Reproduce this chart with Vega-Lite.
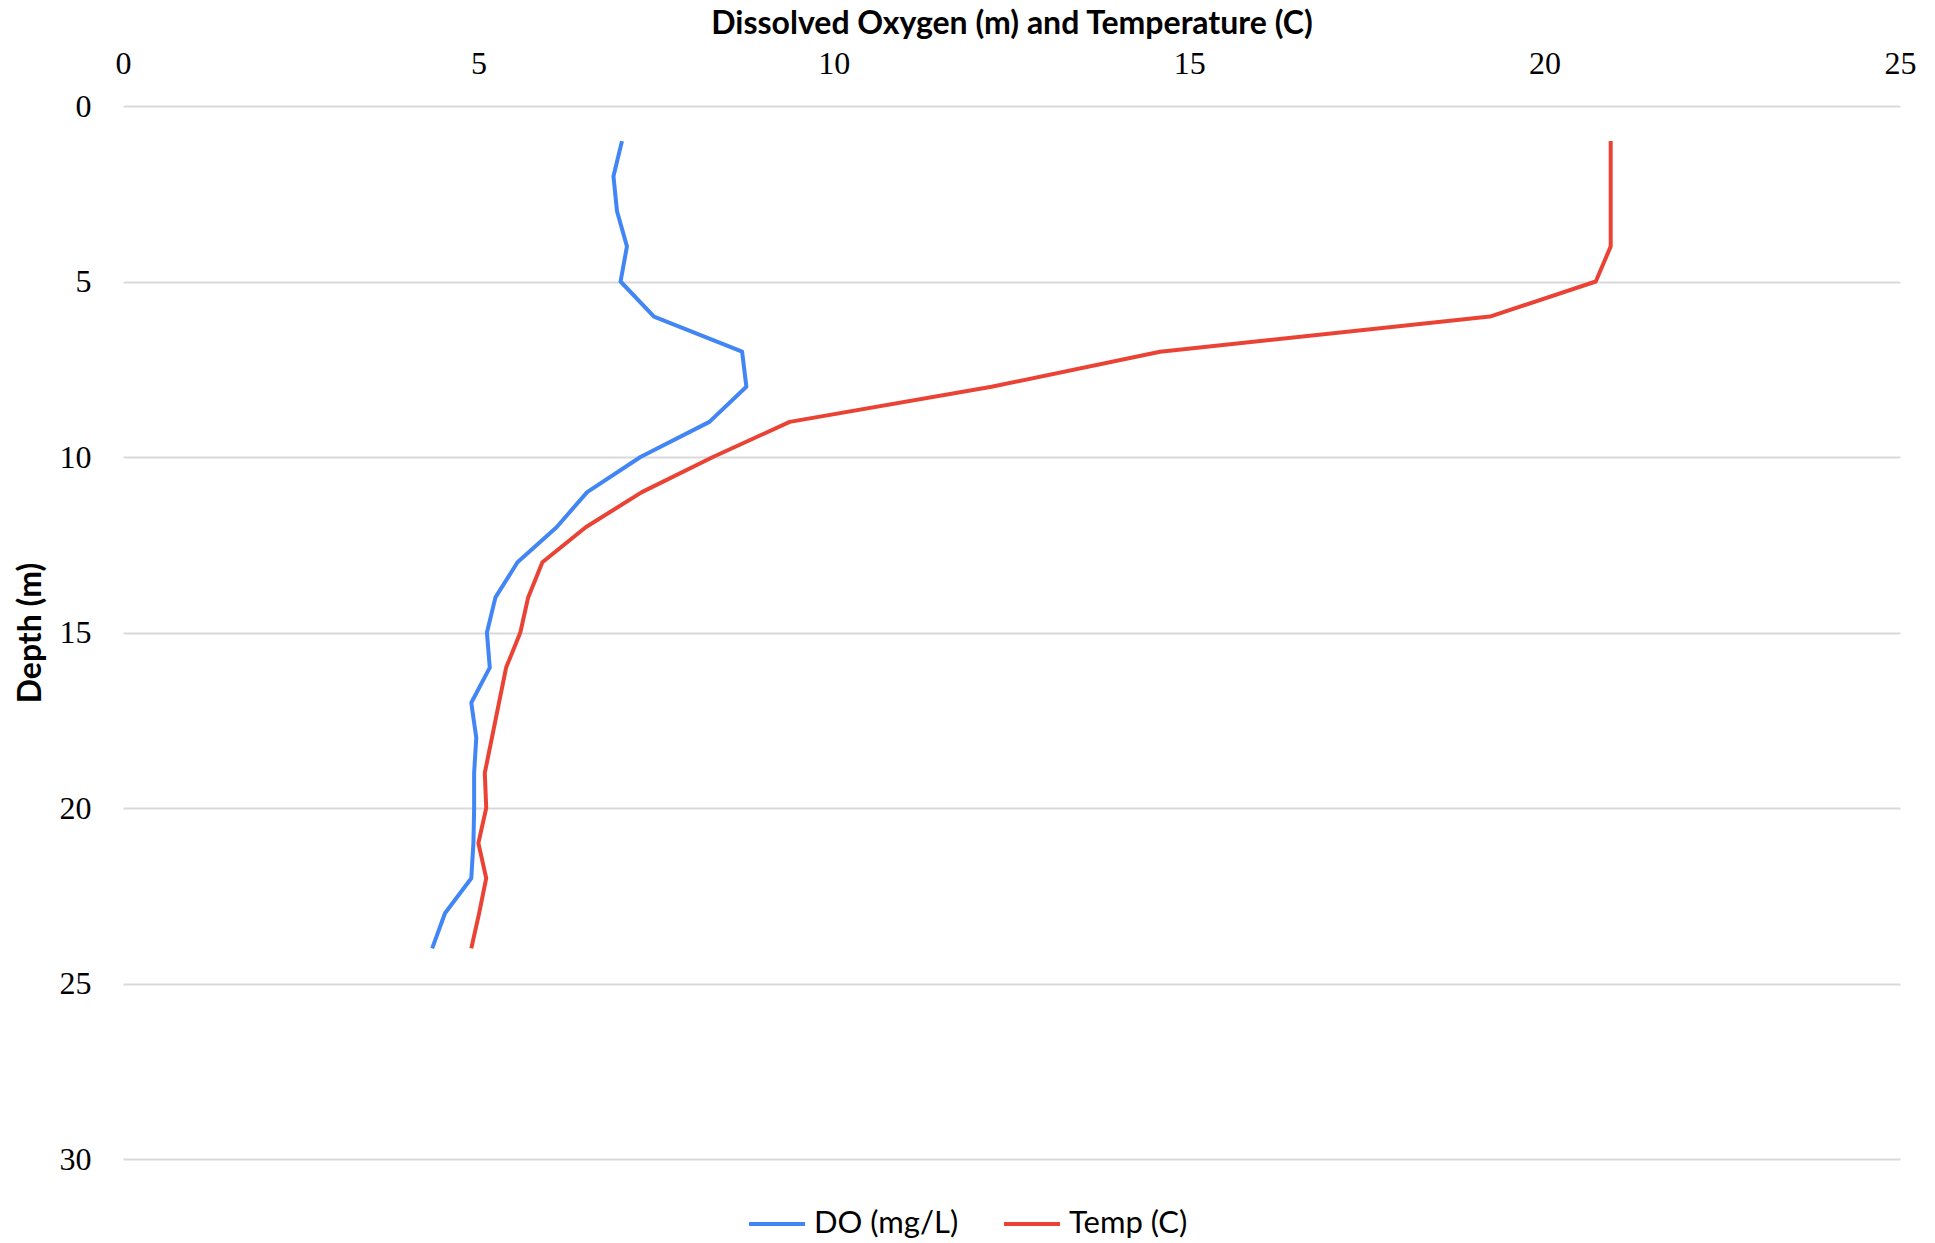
{
  "$schema": "https://vega.github.io/schema/vega-lite/v6.json",
  "width": 1777,
  "height": 1053,
  "autosize": {"type": "none"},
  "padding": {"left": 123, "top": 106, "right": 35, "bottom": 84},
  "background": "white",
  "data": {
    "values": [
      {"depth": 1, "series": "DO (mg/L)", "value": 7.02},
      {"depth": 2, "series": "DO (mg/L)", "value": 6.90},
      {"depth": 3, "series": "DO (mg/L)", "value": 6.95},
      {"depth": 4, "series": "DO (mg/L)", "value": 7.09},
      {"depth": 5, "series": "DO (mg/L)", "value": 7.00},
      {"depth": 6, "series": "DO (mg/L)", "value": 7.47},
      {"depth": 7, "series": "DO (mg/L)", "value": 8.71},
      {"depth": 8, "series": "DO (mg/L)", "value": 8.77},
      {"depth": 9, "series": "DO (mg/L)", "value": 8.25},
      {"depth": 10, "series": "DO (mg/L)", "value": 7.28},
      {"depth": 11, "series": "DO (mg/L)", "value": 6.53},
      {"depth": 12, "series": "DO (mg/L)", "value": 6.10},
      {"depth": 13, "series": "DO (mg/L)", "value": 5.55},
      {"depth": 14, "series": "DO (mg/L)", "value": 5.24},
      {"depth": 15, "series": "DO (mg/L)", "value": 5.12},
      {"depth": 16, "series": "DO (mg/L)", "value": 5.16},
      {"depth": 17, "series": "DO (mg/L)", "value": 4.90},
      {"depth": 18, "series": "DO (mg/L)", "value": 4.97},
      {"depth": 19, "series": "DO (mg/L)", "value": 4.94},
      {"depth": 20, "series": "DO (mg/L)", "value": 4.94},
      {"depth": 21, "series": "DO (mg/L)", "value": 4.93},
      {"depth": 22, "series": "DO (mg/L)", "value": 4.90},
      {"depth": 23, "series": "DO (mg/L)", "value": 4.53},
      {"depth": 24, "series": "DO (mg/L)", "value": 4.35},
      {"depth": 1, "series": "Temp (C)", "value": 20.93},
      {"depth": 2, "series": "Temp (C)", "value": 20.93},
      {"depth": 3, "series": "Temp (C)", "value": 20.93},
      {"depth": 4, "series": "Temp (C)", "value": 20.93},
      {"depth": 5, "series": "Temp (C)", "value": 20.72},
      {"depth": 6, "series": "Temp (C)", "value": 19.23},
      {"depth": 7, "series": "Temp (C)", "value": 14.59},
      {"depth": 8, "series": "Temp (C)", "value": 12.22},
      {"depth": 9, "series": "Temp (C)", "value": 9.38},
      {"depth": 10, "series": "Temp (C)", "value": 8.30},
      {"depth": 11, "series": "Temp (C)", "value": 7.30},
      {"depth": 12, "series": "Temp (C)", "value": 6.51},
      {"depth": 13, "series": "Temp (C)", "value": 5.90},
      {"depth": 14, "series": "Temp (C)", "value": 5.70},
      {"depth": 15, "series": "Temp (C)", "value": 5.59},
      {"depth": 16, "series": "Temp (C)", "value": 5.39},
      {"depth": 17, "series": "Temp (C)", "value": 5.29},
      {"depth": 18, "series": "Temp (C)", "value": 5.19},
      {"depth": 19, "series": "Temp (C)", "value": 5.09},
      {"depth": 20, "series": "Temp (C)", "value": 5.11},
      {"depth": 21, "series": "Temp (C)", "value": 5.00},
      {"depth": 22, "series": "Temp (C)", "value": 5.11},
      {"depth": 23, "series": "Temp (C)", "value": 5.01},
      {"depth": 24, "series": "Temp (C)", "value": 4.90}
    ]
  },
  "mark": {"type": "line", "strokeWidth": 4, "strokeJoin": "round"},
  "encoding": {
    "x": {
      "field": "value",
      "type": "quantitative",
      "scale": {"domain": [0, 25], "nice": false, "zero": true},
      "axis": {
        "orient": "top",
        "title": "Dissolved Oxygen (m) and Temperature (C)",
        "values": [0, 5, 10, 15, 20, 25],
        "grid": false,
        "domain": false,
        "ticks": false,
        "labelFont": "Liberation Serif",
        "labelFontSize": 32,
        "labelColor": "#000000",
        "labelPadding": 26,
        "labelFlush": false,
        "titleFont": "Lato",
        "titleFontWeight": "bold",
        "titleFontSize": 32,
        "titleColor": "#000000",
        "titlePadding": 7
      }
    },
    "y": {
      "field": "depth",
      "type": "quantitative",
      "scale": {"domain": [0, 30], "reverse": true, "nice": false},
      "axis": {
        "title": "Depth (m)",
        "values": [0, 5, 10, 15, 20, 25, 30],
        "grid": true,
        "gridColor": "#d9d9d9",
        "gridWidth": 2,
        "domain": false,
        "ticks": false,
        "labelFont": "Liberation Serif",
        "labelFontSize": 32,
        "labelColor": "#000000",
        "labelPadding": 32,
        "labelFlush": false,
        "titleFont": "Lato",
        "titleFontWeight": "bold",
        "titleFontSize": 32,
        "titleColor": "#000000",
        "titlePadding": 12
      }
    },
    "color": {
      "field": "series",
      "type": "nominal",
      "scale": {"domain": ["DO (mg/L)", "Temp (C)"], "range": ["#4285F4", "#EA4335"]},
      "legend": {
        "title": null,
        "orient": "none",
        "direction": "horizontal",
        "legendX": 624,
        "legendY": 1088,
        "symbolType": "stroke",
        "symbolSize": 3136,
        "symbolStrokeWidth": 4,
        "labelFont": "Lato",
        "labelFontSize": 31,
        "labelColor": "#000000",
        "labelOffset": 7,
        "columnPadding": 37
      }
    },
    "order": {"field": "depth", "type": "quantitative"}
  },
  "config": {
    "view": {"stroke": null}
  }
}
